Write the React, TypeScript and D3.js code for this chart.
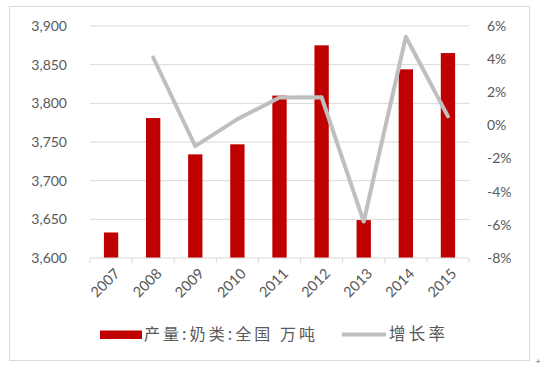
import React from "react";
import * as d3 from "d3";

const years = ["2007", "2008", "2009", "2010", "2011", "2012", "2013", "2014", "2015"];
const production = [3633, 3781, 3734, 3747, 3810, 3875, 3649, 3844, 3865];
const growth = [null, 4.1, -1.25, 0.38, 1.68, 1.7, -5.8, 5.35, 0.55];
const leftTicks = [3600, 3650, 3700, 3750, 3800, 3850, 3900];
const rightTicks = [-8, -6, -4, -2, 0, 2, 4, 6];
const barLabel = "产量:奶类:全国 万吨";
const lineLabel = "增长率";

const W = 542, H = 369;
const plot = { left: 90, right: 469, top: 26, bottom: 258 };
const font = "Lato, 'Noto Sans CJK SC', sans-serif";
const cjk = "'Noto Sans CJK SC', sans-serif";

export default function App() {
  const x = d3.scaleBand().domain(years).range([plot.left, plot.right]).paddingInner(0.66).paddingOuter(0.33);
  const xb = d3.scaleBand().domain(years).range([plot.left, plot.right]);
  const y = d3.scaleLinear().domain([3600, 3900]).range([plot.bottom, plot.top]);
  const y2 = d3.scaleLinear().domain([-8, 6]).range([plot.bottom, plot.top]);
  const pts = years.map((yr, i) => ({ yr, v: growth[i] })).filter(d => d.v !== null) as { yr: string; v: number }[];
  const line = d3.line<{ yr: string; v: number }>()
    .x(d => (xb(d.yr) as number) + xb.bandwidth() / 2)
    .y(d => y2(d.v));
  const tickXs = years.map(yr => xb(yr) as number).concat([plot.right]);
  return (
    <svg width={W} height={H} style={{ position: "absolute", left: 0, top: 0, background: "#fff" }}>
      <rect x={9.5} y={6.5} width={520} height={354} fill="#fff" stroke="#d9d9d9" strokeWidth={1} />
      {leftTicks.slice(1).map(t => (
        <line key={t} x1={plot.left} x2={plot.right} y1={y(t)} y2={y(t)} stroke="#d9d9d9" strokeWidth={1} />
      ))}
      {years.map((yr, i) => (
        <rect key={yr} x={x(yr)} y={y(production[i])} width={x.bandwidth()} height={plot.bottom - y(production[i])} fill="#c00000" />
      ))}
      <line x1={plot.left} x2={plot.right} y1={plot.bottom} y2={plot.bottom} stroke="#d9d9d9" strokeWidth={1} />
      {tickXs.map((tx, i) => (
        <line key={i} x1={tx} x2={tx} y1={plot.bottom} y2={plot.bottom + 5} stroke="#d9d9d9" strokeWidth={1} />
      ))}
      <path d={line(pts) || ""} fill="none" stroke="#bfbfbf" strokeWidth={4} strokeLinejoin="round" strokeLinecap="round" />
      {leftTicks.map(t => (
        <text key={t} x={67} y={y(t)} dy="0.35em" textAnchor="end" fontFamily={font} fontSize={14} fill="#595959">
          {d3.format(",")(t)}
        </text>
      ))}
      {rightTicks.map(t => (
        <text key={t} x={487} y={y2(t)} dy="0.35em" textAnchor="start" fontFamily={font} fontSize={14} fill="#595959">
          {t + "%"}
        </text>
      ))}
      {years.map(yr => {
        const cx = (xb(yr) as number) + xb.bandwidth() / 2 + 6;
        const cy = plot.bottom + 13;
        return (
          <text key={yr} x={cx} y={cy} transform={`rotate(-45 ${cx} ${cy})`} textAnchor="end" dy="0.35em" fontFamily={font} fontSize={14.5} fill="#595959">
            {yr}
          </text>
        );
      })}
      <rect x={100} y={330.5} width={42} height={8.5} fill="#c00000" />
      <text x={144} y={334.5} dy="0.36em" fontFamily={cjk} fontSize={16} textLength={171} lengthAdjust="spacing" fill="#595959">{barLabel}</text>
      <line x1={342} x2={386} y1={334.5} y2={334.5} stroke="#bfbfbf" strokeWidth={4} />
      <text x={389} y={334.5} dy="0.36em" fontFamily={cjk} fontSize={16.5} textLength={56} lengthAdjust="spacing" fill="#595959">{lineLabel}</text>
      <text x={538} y={361} dy="0.35em" textAnchor="middle" fontFamily={font} fontSize={8} fill="#595959">+</text>
    </svg>
  );
}
